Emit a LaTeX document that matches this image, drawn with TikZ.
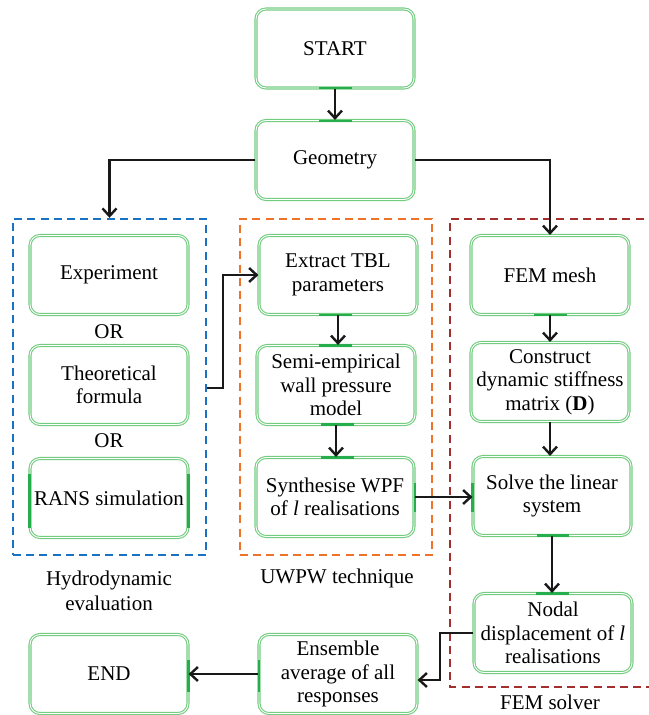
\documentclass[tikz,border=0pt]{standalone}
\usepackage{fontspec}
\setmainfont{Liberation Serif}
\usetikzlibrary{arrows.meta}
\definecolor{boxgreen}{rgb}{0.45,0.80,0.50}
\definecolor{markgreen}{rgb}{0.15,0.68,0.30}
\definecolor{hblue}{rgb}{0.10,0.45,0.76}
\definecolor{horange}{rgb}{0.93,0.45,0.16}
\definecolor{hred}{rgb}{0.64,0.18,0.18}
\tikzset{
  stepbox/.style={draw=boxgreen, double=white, double distance=0.45pt, line width=0.55pt,
    rounded corners=5pt, minimum width=79pt, minimum height=39.5pt, inner sep=1pt,
    align=center, font=\fontsize{10.5}{11.7}\selectfont},
  lbl/.style={align=center, inner sep=0pt, font=\fontsize{10.5}{12.4}\selectfont},
  grp/.style={line width=1.2pt, dash pattern=on 4pt off 2.6pt},
  arr/.style={draw=black!90, line width=1.2pt, -{Straight Barb[length=3.8pt,width=7pt]}},
  mk/.style={draw=markgreen, line width=1.4pt}
}
\begin{document}
\begin{tikzpicture}[x=0.5pt,y=-0.5pt]
\useasboundingbox (0,0) rectangle (648,715);
% group frames
\node (hbox) [draw=hblue, grp, minimum width=96.5pt, minimum height=168pt, inner sep=0pt] at (109.5,387) {};
\node (ubox) [draw=horange, grp, minimum width=96pt, minimum height=168pt, inner sep=0pt] at (336,387) {};
\draw[draw=hred, grp] (670,219) -| (450,687) -- (670,687);
% boxes
\node (start) [stepbox] at (335,48.5) {START};
\node (geo) [stepbox] at (335,160) {Geometry};
\node (exp) [stepbox] at (109,275) {Experiment};
\node (theo) [stepbox] at (109,385) {Theoretical\\formula};
\node (rans) [stepbox] at (109,498) {RANS simulation};
\node (extract) [stepbox] at (338,275) {Extract TBL\\parameters};
\node (semi) [stepbox] at (336,385) {Semi-empirical\\wall pressure\\model};
\node (synth) [stepbox] at (335,497) {Synthesise WPF\\of \textit{l} realisations};
\node (fem) [stepbox] at (550,275) {FEM mesh};
\node (constr) [stepbox] at (550,382) {Construct\\dynamic stiffness\\matrix (\textbf{D})};
\node (solve) [stepbox] at (552,496) {Solve the linear\\system};
\node (nodal) [stepbox] at (553,633) {Nodal\\displacement of \textit{l}\\realisations};
\node (endn) [stepbox] at (109,674) {END};
\node (ens) [stepbox] at (338,674) {Ensemble\\average of all\\responses};
% labels
\node (or1) [lbl] at (109,332) {OR};
\node (or2) [lbl] at (109,441) {OR};
\node (hlab) [lbl] at (109,590.5) {Hydrodynamic\\evaluation};
\node (ulab) [lbl] at (337,578) {UWPW technique};
\node (flab) [lbl] at (550,702) {FEM solver};
% connection marks
\draw[mk] (319,88) -- (352,88);
\draw[mk] (319,121) -- (352,121);
\draw[mk] (319,315) -- (352,315);
\draw[mk] (319,345.5) -- (352,345.5);
\draw[mk] (321,424.5) -- (354,424.5);
\draw[mk] (321,457.5) -- (354,457.5);
\draw[mk] (415,483) -- (415,512);
\draw[mk] (472.5,483) -- (472.5,512);
\draw[mk] (534,315) -- (567,315);
\draw[mk] (537,535.5) -- (569,535.5);
\draw[mk] (536,593.5) -- (569,593.5);
\draw[mk] (29.5,474) -- (29.5,528);
\draw[mk] (188.5,474) -- (188.5,528);
\draw[mk] (259,660) -- (259,692);
\draw[mk] (188.5,660) -- (188.5,692);
% connectors
\draw[arr] (start) -- (geo);
\draw[arr] (geo.west) -| (hbox.north);
\draw[arr] (geo.east) -| (fem.north);
\draw[arr] (hbox.east |- 0,388) -- (223,388) |- (extract.west);
\draw[arr] (extract.south) -- (extract.south |- semi.north);
\draw[arr] (semi.south) -- (semi.south |- synth.north);
\draw[arr] (synth.east) -- (synth.east -| solve.west);
\draw[arr] (fem.south) -- (fem.south |- constr.north);
\draw[arr] (constr.south) -- (constr.south |- solve.north);
\draw[arr] (solve.south) -- (solve.south |- nodal.north);
\coordinate (bend) at (440,680);
\draw[arr] (nodal.west) -| (bend) -- (bend -| ens.east);
\draw[arr] (ens.west) -- (ens.west -| endn.east);
\end{tikzpicture}
\end{document}
